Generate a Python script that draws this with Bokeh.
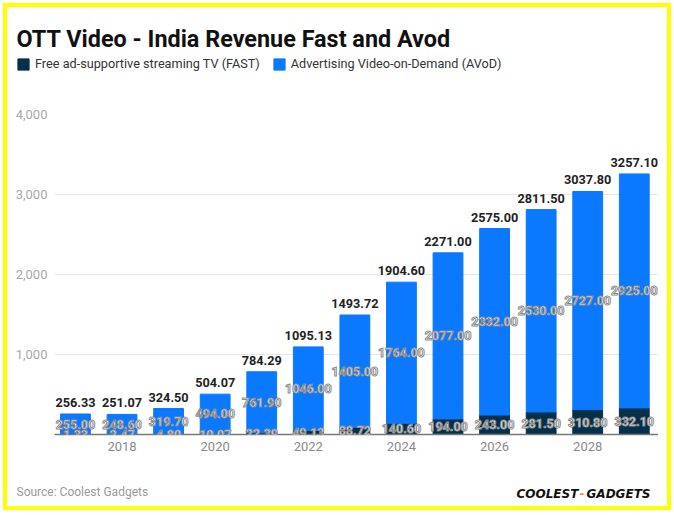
from bokeh.plotting import figure
from bokeh.layouts import column
from bokeh.core.properties import value
from bokeh.models import ColumnDataSource, LabelSet, Label, Legend, LegendItem, FixedTicker, Range1d, NumeralTickFormatter
from bokeh.embed import file_html
from bokeh.resources import INLINE

years = [2017, 2018, 2019, 2020, 2021, 2022, 2023, 2024, 2025, 2026, 2027, 2028, 2029]
fast = [1.33, 2.47, 4.80, 10.07, 22.39, 49.13, 88.72, 140.60, 194.00, 243.00, 281.50, 310.80, 332.10]
avod = [255.00, 248.60, 319.70, 494.00, 761.90, 1046.00, 1405.00, 1764.00, 2077.00, 2332.00, 2530.00, 2727.00, 2925.00]
total = [256.33, 251.07, 324.50, 504.07, 784.29, 1095.13, 1493.72, 1904.60, 2271.00, 2575.00, 2811.50, 3037.80, 3257.10]
x_ticks = [2018, 2020, 2022, 2024, 2026, 2028]
y_ticks = [1000, 2000, 3000, 4000]

FAST_COLOR = "#06304a"
AVOD_COLOR = "#0a78ff"
FONT = "Roboto"
W = 658

src = ColumnDataSource(data=dict(
    year=years,
    fast=fast,
    total=total,
    fast_mid=[f / 2 for f in fast],
    avod_mid=[f + a / 2 for f, a in zip(fast, avod)],
    fast_txt=["%.2f" % v for v in fast],
    avod_txt=["%.2f" % v for v in avod],
    total_txt=["%.2f" % v for v in total],
))


def blank(height):
    # a figure whose frame is the whole canvas, y counted downward in pixels
    f = figure(width=W, height=height, x_range=Range1d(0, W), y_range=Range1d(height, 0),
               x_axis_type=None, y_axis_type=None, output_backend="svg", toolbar_location=None,
               min_border=0, frame_align=False)
    f.outline_line_color = None
    return f


# header: title + legend
head = blank(100)
head.add_layout(Label(x=16, y=38, text="OTT Video - India Revenue Fast and Avod", text_font=FONT,
                      text_font_size="23.4px", text_font_style="bold", text_color="#111111",
                      text_baseline="alphabetic"))
# legend swatches (the bars themselves fall outside this strip)
h1 = head.vbar(x="year", width=0.64, top="fast", color=FAST_COLOR, source=src)
h2 = head.vbar(x="year", width=0.64, bottom="fast", top="total", color=AVOD_COLOR, source=src)
legend = Legend(items=[LegendItem(label="Free ad-supportive streaming TV (FAST)", renderers=[h1]),
                       LegendItem(label="Advertising Video-on-Demand (AVoD)", renderers=[h2])],
                orientation="horizontal", location=(16, 29),
                glyph_width=14, glyph_height=14, label_height=14, label_standoff=5,
                spacing=12, padding=0, margin=0, border_line_color=None,
                background_fill_alpha=0, label_text_font=FONT,
                label_text_font_size="12.7px", label_text_color="#333333")
head.add_layout(legend)

# main chart
p = figure(width=W, height=364, x_range=Range1d(2016.55, 2029.52), y_range=Range1d(0, 4000),
           output_backend="svg", toolbar_location=None, frame_align=False,
           min_border_left=54, min_border_right=0, min_border_top=14, min_border_bottom=30)
p.outline_line_color = None

p.xgrid.visible = False
p.ygrid.grid_line_color = "#e6e6e6"

p.yaxis.ticker = FixedTicker(ticks=y_ticks)
p.yaxis.formatter = NumeralTickFormatter(format="0,0")
p.yaxis.axis_line_color = None
p.yaxis.major_tick_line_color = None
p.yaxis.minor_tick_line_color = None
p.yaxis.major_tick_out = 0
p.yaxis.major_tick_in = 0
p.yaxis.minor_tick_out = 0
p.yaxis.major_label_standoff = 7
p.yaxis.major_label_text_font = FONT
p.yaxis.major_label_text_font_size = "13px"
p.yaxis.major_label_text_color = "#a8a8a8"

p.xaxis.ticker = FixedTicker(ticks=x_ticks)
p.xaxis.axis_line_color = "#777777"
p.xaxis.axis_line_width = 1.5
p.xaxis.major_tick_line_color = None
p.xaxis.minor_tick_line_color = None
p.xaxis.major_tick_out = 0
p.xaxis.major_tick_in = 0
p.xaxis.minor_tick_out = 0
p.xaxis.major_label_standoff = 7
p.xaxis.major_label_text_font = FONT
p.xaxis.major_label_text_font_size = "13px"
p.xaxis.major_label_text_color = "#8a8a8a"

p.vbar(x="year", width=0.64, bottom=0, top="fast", color=FAST_COLOR, source=src)
p.vbar(x="year", width=0.64, bottom="fast", top="total", color=AVOD_COLOR, source=src)

inner = dict(source=src, text_align="center", text_baseline="middle", text_color="white",
             text_outline_color="#8c8c8c", text_font=value(FONT), text_font_size="12.5px",
             text_font_style="bold")
p.add_layout(LabelSet(x="year", y="fast_mid", text="fast_txt", **inner))
p.add_layout(LabelSet(x="year", y="avod_mid", text="avod_txt", **inner))
p.add_layout(LabelSet(x="year", y="total", text="total_txt", source=src, y_offset=7,
                      text_align="center", text_baseline="alphabetic", text_color="#222222",
                      text_font=value(FONT), text_font_size="12.7px", text_font_style="bold"))

# footer: source + logo
foot = blank(35)
foot.add_layout(Label(x=16, y=27.5, text="Source: Coolest Gadgets", text_font=FONT,
                      text_font_size="12px", text_color="#9a9a9a", text_baseline="alphabetic"))
logo = dict(y=29, text_font="DejaVu Sans", text_font_size="12px",
            text_font_style="bold italic", text_baseline="alphabetic")
foot.add_layout(Label(x=516, text="COOLEST", text_color="#111111", **logo))
foot.add_layout(Label(x=579, text="-", text_color="#ff8c3a", **logo))
foot.add_layout(Label(x=586, text="GADGETS", text_color="#111111", **logo))

layout = column(head, p, foot, spacing=0)
layout.stylesheets = [":host { position: relative; } "
                      ":host::after { content: ''; position: absolute; left: 3px; top: 3px; "
                      "width: 668px; height: 507px; box-sizing: border-box; "
                      "border: 4px solid #ffff00; pointer-events: none; z-index: 1000; }"]

open("out.html", "w").write(file_html(layout, INLINE))
